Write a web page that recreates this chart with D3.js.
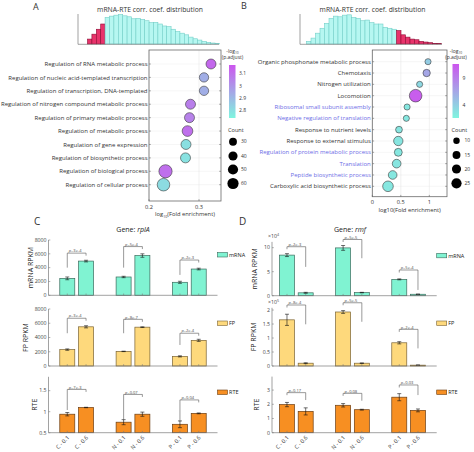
<!DOCTYPE html>
<html><head><meta charset="utf-8">
<script src="https://cdn.jsdelivr.net/npm/d3@7"></script>
<style>
body{margin:0;background:#fff;}
svg{display:block;font-family:"Open Sans",sans-serif;}
</style></head><body>
<svg id="c" width="474" height="452"></svg>
<script>
// ---------------- DATA ----------------
const histTitle = "mRNA-RTE corr. coef. distribution";
const histARed = [15, 30, 45, 61];
const histACyan = [81, 85, 88, 90, 86, 83, 77, 78, 75, 71, 65, 66, 61, 55, 53, 45, 38, 33, 28, 21, 16, 12, 8, 5, 3, 1];
const histBCyan = [8, 18, 33, 48, 63, 78, 85, 83, 88, 89, 81, 78, 71, 73, 65, 61, 61, 51, 48, 45];
const histBRed = [41, 28, 21, 15, 13, 8, 6, 4, 2, 1];

const termsA = ["Regulation of RNA metabolic process", "Regulation of nucleic acid-templated transcription",
  "Regulation of transcription, DNA-templated", "Regulation of nitrogen compound metabolic process",
  "Regulation of primary metabolic process", "Regulation of metabolic process", "Regulation of gene expression",
  "Regulation of biosynthetic process", "Regulation of biological process", "Regulation of cellular process"];
const foldA = [0.324, 0.31, 0.31, 0.283, 0.281, 0.277, 0.274, 0.273, 0.233, 0.229];
const padjA = [3.12, 2.93, 2.93, 3.06, 3.05, 3.1, 2.8, 2.79, 3.1, 2.81];
const countA = [48, 42, 42, 48, 48, 55, 48, 48, 84, 76];
const foldTicksA = [0.2, 0.3];
const padjTicksA = [2.8, 2.9, 3, 3.1];
const countLegendA = [30, 40, 50, 60];

const termsB = ["Organic phosphonate metabolic process", "Chemotaxis", "Nitrogen utilization", "Locomotion",
  "Ribosomal small subunit assembly", "Negative regulation of translation", "Response to nutrient levels",
  "Response to external stimulus", "Regulation of protein metabolic process", "Translation",
  "Peptide biosynthetic process", "Carboxylic acid biosynthetic process"];
const foldB = [0.977, 0.953, 0.83, 0.76, 0.61, 0.597, 0.468, 0.456, 0.456, 0.427, 0.357, 0.275];
const padjB = [4.2, 6.6, 3.4, 11.2, 2.5, 2.5, 2.6, 2.6, 2.5, 2.6, 2.5, 2.5];
const countB = [9, 13, 9, 38, 9, 9, 11, 21, 15, 18, 18, 27];
const highlightB = ["Ribosomal small subunit assembly", "Negative regulation of translation",
  "Regulation of protein metabolic process", "Translation", "Peptide biosynthetic process"];
const foldTicksB = [0, 0.5, 1];
const padjTicksB = [4, 9];
const countLegendB = [10, 15, 20, 25];

const conditions = ["C - 0.1", "C - 0.6", "N - 0.1", "N - 0.6", "P - 0.1", "P - 0.6"];
// Gene rplA
const rplA_mRNA = [2450, 4950, 2650, 5750, 1880, 3800];
const rplA_mRNA_err = [200, 120, 100, 250, 150, 120];
const rplA_mRNA_p = ["3e-4", "5e-4", "2e-3"];
const rplA_mRNA_bTop = [6100, 7050, 5100];
const rplA_mRNA_bLeg = [4000, 4000, 2950];
const rplA_FP = [2300, 5500, 2050, 5450, 1350, 3600];
const rplA_FP_err = [100, 150, 30, 50, 80, 150];
const rplA_FP_p = ["3e-4", "8e-7", "2e-4"];
const rplA_FP_bTop = [6700, 6550, 4600];
const rplA_FP_bLeg = [4600, 4600, 2950];
const rplA_RTE = [0.94, 1.10, 0.75, 0.94, 0.70, 0.96];
const rplA_RTE_err = [0.04, 0.005, 0.06, 0.05, 0.08, 0.01];
const rplA_RTE_p = ["7e-3", "0.07", "0.04"];
const rplA_RTE_bTop = [1.53, 1.41, 1.28];
const rplA_RTE_bLeg = [1.04, 0.80, 0.77];
// Gene rmf
const rmf_mRNA = [84500, 6000, 99500, 6500, 34000, 3000];
const rmf_mRNA_err = [3000, 1000, 5000, 500, 1000, 300];
const rmf_mRNA_p = ["2e-3", "5e-5", "5e-4"];
const rmf_mRNA_bTop = [102000, 117000, 53500];
const rmf_mRNA_bLeg = [60000, 78000, 12000];
const rmf_FP = [165000, 10000, 193000, 10000, 83000, 3000];
const rmf_FP_err = [20000, 1500, 5000, 1000, 4000, 500];
const rmf_FP_p = ["8e-4", "5e-5", "2e-4"];
const rmf_FP_bTop = [218000, 226000, 131000];
const rmf_FP_bLeg = [149000, 158000, 63000];
const rmf_RTE = [1.98, 1.50, 1.93, 1.62, 2.50, 1.57];
const rmf_RTE_err = [0.15, 0.25, 0.12, 0.03, 0.25, 0.10];
const rmf_RTE_p = ["0.17", "0.08", "0.03"];
const rmf_RTE_bTop = [2.82, 2.77, 3.36];
const rmf_RTE_bLeg = [2.30, 2.25, 2.65];

// ---------------- DRAW ----------------
const svg = d3.select("#c");
const TXT = "#333";
const AX = "#7a7a7a";

function txt(x, y, s, size, opts = {}) {
  const t = svg.append("text").attr("x", x).attr("y", y).attr("font-size", size)
    .attr("fill", opts.fill || TXT).attr("text-anchor", opts.anchor || "start").text(s);
  if (opts.weight) t.attr("font-weight", opts.weight);
  return t;
}

// panel letters
txt(33, 10, "A", 9);
txt(241, 9, "B", 9);
txt(34, 225, "C", 10);
txt(239, 225, "D", 10);

// ---------- histograms ----------
function histogram(cfg) {
  const bins = cfg.first.map(v => ({ v, red: cfg.firstRed }))
    .concat(cfg.second.map(v => ({ v, red: !cfg.firstRed })));
  const x = d3.scaleLinear().domain([0, bins.length]).range([cfg.x0, cfg.x0 + bins.length * cfg.bw]);
  const y = d3.scaleLinear().domain([0, 90]).range([44, 14.5]);
  svg.append("g").selectAll("rect").data(bins).join("rect")
    .attr("x", (d, i) => x(i)).attr("width", cfg.bw)
    .attr("y", d => y(d.v)).attr("height", d => y(0) - y(d.v))
    .attr("fill", d => d.red ? "#e8336b" : "#b6f7f1")
    .attr("stroke", d => d.red ? "#8e0d35" : "#74cfc8").attr("stroke-width", 0.6);
  svg.append("line").attr("x1", cfg.axL).attr("x2", cfg.axL).attr("y1", 14).attr("y2", 44.3)
    .attr("stroke", AX).attr("stroke-width", 0.7);
  svg.append("line").attr("x1", cfg.axL).attr("x2", cfg.axR).attr("y1", 44.3).attr("y2", 44.3)
    .attr("stroke", AX).attr("stroke-width", 0.7);
  txt(cfg.tx, 12, histTitle, 6.8, { anchor: "middle" });
}
histogram({ first: histARed, second: histACyan, firstRed: true, x0: 87.5, bw: 4.4, axL: 78, axR: 219, tx: 150 });
histogram({ first: histBCyan, second: histBRed, firstRed: false, x0: 306.5, bw: 4.5, axL: 300, axR: 442, tx: 372.5 });

// ---------- dot plots ----------
const cLow = "#7ff5df", cHigh = "#cc55ee";
function dotPlot(cfg) {
  const g = svg.append("g");
  const x = d3.scaleLinear().domain(cfg.xDom).range([cfg.bx0, cfg.bx1]);
  const y = d3.scaleLinear().domain([0, cfg.terms.length - 1]).range([cfg.ry0, cfg.ry1]);
  const col = d3.scaleLinear().domain(cfg.cDom).range([cLow, cHigh]).interpolate(d3.interpolateRgb).clamp(true);
  const r = v => cfg.rk * Math.sqrt(v);
  // grid
  g.selectAll(".gh").data(cfg.terms).join("line")
    .attr("x1", cfg.bx0).attr("x2", cfg.bx1).attr("y1", (d, i) => y(i)).attr("y2", (d, i) => y(i))
    .attr("stroke", "#ececec").attr("stroke-width", 0.5);
  g.selectAll(".gv").data(cfg.xTicks).join("line")
    .attr("x1", d => x(d)).attr("x2", d => x(d)).attr("y1", cfg.by0).attr("y2", cfg.by1)
    .attr("stroke", "#e2e2e2").attr("stroke-width", 0.5);
  // box
  g.append("rect").attr("x", cfg.bx0).attr("y", cfg.by0).attr("width", cfg.bx1 - cfg.bx0).attr("height", cfg.by1 - cfg.by0)
    .attr("fill", "none").attr("stroke", "#6a6a6a").attr("stroke-width", 0.8);
  // y ticks
  g.selectAll(".yt").data(cfg.terms).join("line")
    .attr("x1", cfg.bx0).attr("x2", cfg.bx0 + 1.8).attr("y1", (d, i) => y(i)).attr("y2", (d, i) => y(i))
    .attr("stroke", "#6a6a6a").attr("stroke-width", 0.6);
  g.selectAll(".yt2").data(cfg.terms).join("line")
    .attr("x1", cfg.bx1).attr("x2", cfg.bx1 - 1.8).attr("y1", (d, i) => y(i)).attr("y2", (d, i) => y(i))
    .attr("stroke", "#6a6a6a").attr("stroke-width", 0.6);
  g.selectAll(".xt").data(cfg.xTicks).join("line")
    .attr("x1", d => x(d)).attr("x2", d => x(d)).attr("y1", cfg.by1).attr("y2", cfg.by1 - 1.8)
    .attr("stroke", "#6a6a6a").attr("stroke-width", 0.6);
  // labels
  g.selectAll(".lab").data(cfg.terms).join("text")
    .attr("x", cfg.bx0 - 1.5).attr("y", (d, i) => y(i)).attr("dy", "0.35em")
    .attr("text-anchor", "end").attr("font-size", 6)
    .attr("fill", d => cfg.highlight && cfg.highlight.includes(d) ? "#6d6de6" : TXT).text(d => d);
  // x tick labels
  g.selectAll(".xl").data(cfg.xTicks).join("text")
    .attr("x", d => x(d)).attr("y", cfg.by1 + 7.5).attr("text-anchor", "middle").attr("font-size", 5.6)
    .attr("fill", TXT).text(d => d);
  // x axis label
  const xl = g.append("text").attr("x", (cfg.bx0 + cfg.bx1) / 2).attr("y", cfg.by1 + 15)
    .attr("text-anchor", "middle").attr("font-size", 5.8).attr("fill", TXT);
  if (cfg.sub) {
    xl.append("tspan").text("log");
    xl.append("tspan").attr("font-size", 3.6).attr("dy", 1.5).text("10");
    xl.append("tspan").attr("dy", -1.5).text("(Fold enrichment)");
  } else xl.text("log10(Fold enrichment)");
  // dots (largest first)
  const pts = cfg.terms.map((t, i) => ({ i, f: cfg.fold[i], p: cfg.padj[i], c: cfg.count[i] }));
  g.selectAll(".dot").data(pts.slice().sort((a, b) => b.c - a.c)).join("circle")
    .attr("cx", d => x(d.f)).attr("cy", d => y(d.i)).attr("r", d => r(d.c))
    .attr("fill", d => col(d.p)).attr("stroke", "#3a3a3a").attr("stroke-width", 0.6);
  // colorbar
  const gid = "grad" + cfg.id;
  const grad = svg.append("defs").append("linearGradient").attr("id", gid)
    .attr("x1", 0).attr("y1", 1).attr("x2", 0).attr("y2", 0);
  grad.append("stop").attr("offset", 0).attr("stop-color", cLow);
  grad.append("stop").attr("offset", 1).attr("stop-color", cHigh);
  const cy = d3.scaleLinear().domain(cfg.cDom).range([cfg.cb1, cfg.cb0]);
  g.append("rect").attr("x", cfg.cbx).attr("y", cfg.cb0).attr("width", 6.5).attr("height", cfg.cb1 - cfg.cb0)
    .attr("fill", `url(#${gid})`);
  g.selectAll(".ct").data(cfg.cTicks).join("text")
    .attr("x", cfg.cbx + 10).attr("y", d => cy(d)).attr("dy", "0.35em").attr("font-size", 5)
    .attr("fill", TXT).text(d => d);
  const t1 = g.append("text").attr("x", cfg.cbx + 3.5).attr("y", cfg.by0 + 2.5).attr("text-anchor", "middle")
    .attr("font-size", 5).attr("fill", TXT);
  t1.append("tspan").text("-log");
  t1.append("tspan").attr("font-size", 3.3).attr("dy", 1.3).text("10");
  g.append("text").attr("x", cfg.cbx + 3.5).attr("y", cfg.by0 + 8.5).attr("text-anchor", "middle")
    .attr("font-size", 5).attr("fill", TXT).text("(p.adjust)");
  // count legend
  g.append("text").attr("x", cfg.cbx - 1).attr("y", 132).attr("font-size", 5.6).attr("fill", TXT).text("Count");
  g.selectAll(".cl").data(cfg.countLegend).join("circle")
    .attr("cx", cfg.cbx + 4).attr("cy", (d, i) => cfg.legY[i]).attr("r", d => r(d)).attr("fill", "#000");
  g.selectAll(".clt").data(cfg.countLegend).join("text")
    .attr("x", cfg.cbx + 12).attr("y", (d, i) => cfg.legY[i]).attr("dy", "0.35em")
    .attr("font-size", 5).attr("fill", TXT).text(d => d);
}
dotPlot({ id: "A", terms: termsA, fold: foldA, padj: padjA, count: countA, xDom: [0.2, 0.344], xTicks: foldTicksA,
  bx0: 149, bx1: 221, by0: 50, by1: 201, ry0: 64, ry1: 184.7, rk: 0.72, cDom: [2.74, 3.17], cTicks: padjTicksA,
  cbx: 229, cb0: 65, cb1: 118, countLegend: countLegendA, legY: [141.7, 156, 169.5, 183.5], sub: true });
dotPlot({ id: "B", terms: termsB, fold: foldB, padj: padjB, count: countB, xDom: [0, 1.31], xTicks: foldTicksB,
  bx0: 372.3, bx1: 447, by0: 50, by1: 196.7, ry0: 61.7, ry1: 186.3, rk: 1.02, cDom: [1.6, 11.7], cTicks: padjTicksB,
  cbx: 452.5, cb0: 64, cb1: 118, countLegend: countLegendB, legY: [140.7, 155, 169, 183.3], highlight: highlightB, sub: false });

// ---------- bar panels ----------
const pos = conditions.map((c, i) => i + Math.floor(i / 2) + 1);
function barPlot(cfg) {
  const g = svg.append("g");
  const x = cfg.x;
  const y = d3.scaleLinear().domain(cfg.yDom).range(cfg.yRng);
  const base = cfg.yDom[0];
  const bw = 15;
  const d = conditions.map((c, i) => ({ c, p: pos[i], v: cfg.vals[i], e: cfg.errs[i] }));
  g.selectAll("rect").data(d).join("rect")
    .attr("x", q => x(q.p) - bw / 2).attr("width", bw)
    .attr("y", q => y(q.v)).attr("height", q => y(base) - y(q.v))
    .attr("fill", cfg.fill).attr("stroke", cfg.stroke).attr("stroke-width", 0.7);
  // error bars
  const eb = g.selectAll(".eb").data(d).join("g").attr("stroke", "#111").attr("stroke-width", 0.6);
  eb.append("line").attr("x1", q => x(q.p)).attr("x2", q => x(q.p)).attr("y1", q => y(q.v - q.e)).attr("y2", q => y(q.v + q.e));
  eb.append("line").attr("x1", q => x(q.p) - 2).attr("x2", q => x(q.p) + 2).attr("y1", q => y(q.v - q.e)).attr("y2", q => y(q.v - q.e));
  eb.append("line").attr("x1", q => x(q.p) - 2).attr("x2", q => x(q.p) + 2).attr("y1", q => y(q.v + q.e)).attr("y2", q => y(q.v + q.e));
  // axes
  const [xa, xb] = x.range();
  g.append("line").attr("x1", xa).attr("x2", xa).attr("y1", cfg.yRng[1]).attr("y2", cfg.yRng[0]).attr("stroke", AX).attr("stroke-width", 0.7);
  g.append("line").attr("x1", xa).attr("x2", xb).attr("y1", cfg.yRng[0]).attr("y2", cfg.yRng[0]).attr("stroke", AX).attr("stroke-width", 0.7);
  g.selectAll(".yt").data(cfg.ticks).join("line")
    .attr("x1", xa).attr("x2", xa + 1.8).attr("y1", t => y(t)).attr("y2", t => y(t)).attr("stroke", AX).attr("stroke-width", 0.6);
  g.selectAll(".xt").data(pos).join("line")
    .attr("x1", p => x(p)).attr("x2", p => x(p)).attr("y1", cfg.yRng[0]).attr("y2", cfg.yRng[0] - 1.8).attr("stroke", AX).attr("stroke-width", 0.6);
  g.selectAll(".ytl").data(cfg.ticks).join("text")
    .attr("x", xa - 2).attr("y", t => y(t)).attr("dy", "0.35em").attr("text-anchor", "end")
    .attr("font-size", 5.2).attr("fill", "#444").text(t => cfg.fmt(t));
  if (cfg.exp) {
    const et = g.append("text").attr("x", xa - 4).attr("y", cfg.yRng[1] - 3.5).attr("font-size", 5.2).attr("fill", "#444");
    et.append("tspan").text("×10");
    et.append("tspan").attr("font-size", 3.6).attr("dy", -2).text(cfg.exp);
  }
  // y label
  g.append("text").attr("transform", `translate(${cfg.ylx},${(cfg.yRng[0] + cfg.yRng[1]) / 2}) rotate(-90)`)
    .attr("text-anchor", "middle").attr("font-size", 7).attr("fill", "#222").text(cfg.ylabel);
  // legend
  g.append("rect").attr("x", xb).attr("y", cfg.legY).attr("width", 10).attr("height", 4.5)
    .attr("fill", cfg.fill).attr("stroke", cfg.stroke).attr("stroke-width", 0.6);
  g.append("text").attr("x", xb + 11.5).attr("y", cfg.legY + 2.3).attr("dy", "0.35em")
    .attr("font-size", 5.5).attr("fill", "#222").text(cfg.legend);
  // brackets
  for (let k = 0; k < 3; k++) {
    const a = x(pos[2 * k]), b = x(pos[2 * k + 1]);
    const top = y(cfg.bTop[k]), leg = y(cfg.bLeg[k]);
    const leftLong = cfg.vals[2 * k] < cfg.vals[2 * k + 1];
    const path = leftLong ? `M${a},${leg}V${top}H${b}V${top + 2.5}` : `M${a},${top + 2.5}V${top}H${b}V${leg}`;
    g.append("path").attr("d", path).attr("fill", "none").attr("stroke", "#555").attr("stroke-width", 0.6);
    const pt = g.append("text").attr("x", a + 1.5).attr("y", top - 0.8).attr("font-size", 4).attr("fill", "#444");
    pt.append("tspan").attr("font-style", "italic").text("p");
    pt.append("tspan").text("=" + cfg.p[k]);
  }
  // x labels
  if (cfg.xlabels) {
    g.selectAll(".xlab").data(d).join("text")
      .attr("transform", q => `translate(${x(q.p) + 1},${cfg.yRng[0] + 4}) rotate(-45)`)
      .attr("text-anchor", "end").attr("dy", "0.35em").attr("font-size", 5.6).attr("fill", "#333").text(q => q.c);
  }
}
const xC = d3.scaleLinear().domain([0, 9]).range([48.5, 217.5]);
const xD = d3.scaleLinear().domain([0.2, 9]).range([272, 436.7]);
const MRNA = { fill: "#80f3d2", stroke: "#3b6b5d" }, FP = { fill: "#fed97c", stroke: "#7a6334" }, RTE = { fill: "#f78f22", stroke: "#6b3d12" };
const f0 = d => d;

// Gene titles
function geneTitle(xc, name) {
  const t = svg.append("text").attr("x", xc).attr("y", 232.3).attr("text-anchor", "middle").attr("font-size", 7).attr("fill", "#222");
  t.append("tspan").text("Gene: ");
  t.append("tspan").attr("font-style", "italic").text(name);
}
geneTitle(133, "rplA");
geneTitle(350, "rmf");

barPlot({ x: xC, yDom: [0, 8000], yRng: [295.3, 240], vals: rplA_mRNA, errs: rplA_mRNA_err, ...MRNA,
  ticks: [0, 2000, 4000, 6000, 8000], fmt: f0, ylabel: "mRNA RPKM", ylx: 33, legend: "mRNA", legY: 252.5,
  p: rplA_mRNA_p, bTop: rplA_mRNA_bTop, bLeg: rplA_mRNA_bLeg });
barPlot({ x: xC, yDom: [0, 8000], yRng: [366, 309], vals: rplA_FP, errs: rplA_FP_err, ...FP,
  ticks: [0, 2000, 4000, 6000, 8000], fmt: f0, ylabel: "FP RPKM", ylx: 28, legend: "FP", legY: 321,
  p: rplA_FP_p, bTop: rplA_FP_bTop, bLeg: rplA_FP_bLeg });
barPlot({ x: xC, yDom: [0.5, 1.83], yRng: [432.7, 376.8], vals: rplA_RTE, errs: rplA_RTE_err, ...RTE,
  ticks: [0.5, 1, 1.5], fmt: f0, ylabel: "RTE", ylx: 37, legend: "RTE", legY: 390,
  p: rplA_RTE_p, bTop: rplA_RTE_bTop, bLeg: rplA_RTE_bLeg, xlabels: true });

barPlot({ x: xD, yDom: [0, 112000], yRng: [295.7, 241.9], vals: rmf_mRNA, errs: rmf_mRNA_err, ...MRNA,
  ticks: [0, 50000, 100000], fmt: t => t / 1e4, exp: "4", ylabel: "mRNA RPKM", ylx: 257, legend: "mRNA", legY: 253.3,
  p: rmf_mRNA_p, bTop: rmf_mRNA_bTop, bLeg: rmf_mRNA_bLeg });
barPlot({ x: xD, yDom: [0, 208000], yRng: [366, 307.8], vals: rmf_FP, errs: rmf_FP_err, ...FP,
  ticks: [0, 50000, 100000, 150000, 200000], fmt: t => t / 1e5, exp: "5", ylabel: "FP RPKM", ylx: 256, legend: "FP", legY: 321,
  p: rmf_FP_p, bTop: rmf_FP_bTop, bLeg: rmf_FP_bLeg });
barPlot({ x: xD, yDom: [0, 3.95], yRng: [432.7, 376.6], vals: rmf_RTE, errs: rmf_RTE_err, ...RTE,
  ticks: [0, 1, 2, 3], fmt: f0, ylabel: "RTE", ylx: 259, legend: "RTE", legY: 390,
  p: rmf_RTE_p, bTop: rmf_RTE_bTop, bLeg: rmf_RTE_bLeg, xlabels: true });
</script>
</body></html>
